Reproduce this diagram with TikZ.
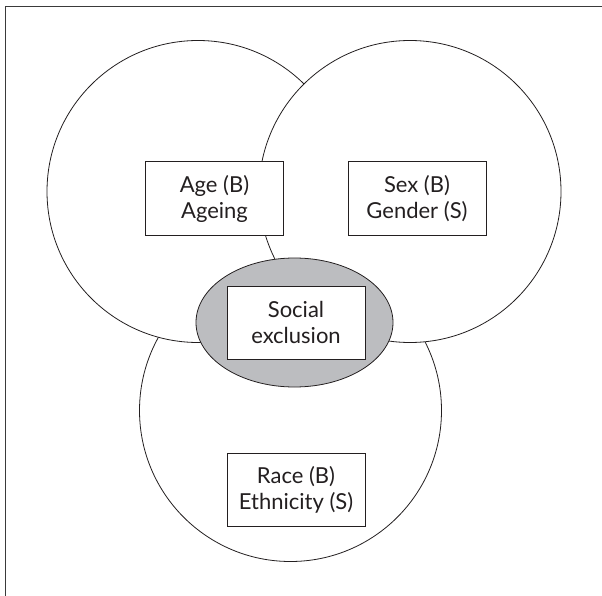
\documentclass[tikz,border=0pt]{standalone}
\usepackage{fontspec}
\setmainfont{Lato}
\usetikzlibrary{shapes.geometric}
\definecolor{ink}{HTML}{231F20}
\definecolor{shade}{HTML}{BCBDC0}
\definecolor{framec}{HTML}{3A3A3A}
\begin{document}
\begin{tikzpicture}[x=1pt,y=-1pt,
  ring/.style={circle, draw=ink, line width=0.8pt, fill=white, minimum size=302pt, inner sep=0pt},
  label box/.style={draw=ink, line width=0.9pt, fill=white, minimum width=138pt, minimum height=73.5pt, inner sep=0pt, align=center, text=ink, font=\fontsize{22}{26}\selectfont}]
\useasboundingbox (0,0) rectangle (602,596);
\draw[framec, line width=1.6pt] (5.4,596) -- (5.4,6.7) -- (602,6.7);
\node[ring] (race) at (290.5,410.5) {};
\node[ring] (age) at (198,191.5) {};
\node[ring] (sex) at (410,191.5) {};
\node[ellipse, draw=ink, line width=0.8pt, fill=shade, minimum width=197pt, minimum height=129pt, inner sep=0pt] (excl) at (294.5,322.5) {};
\node[label box] (agebox) at (214.5,198.5) {Age (B)\\Ageing};
\node[label box] (sexbox) at (417,198.5) {Sex (B)\\Gender (S)};
\node[label box] (exclbox) at (296,322.7) {Social\\exclusion};
\node[label box] (racebox) at (296,489.7) {Race (B)\\Ethnicity (S)};
\end{tikzpicture}
\end{document}
